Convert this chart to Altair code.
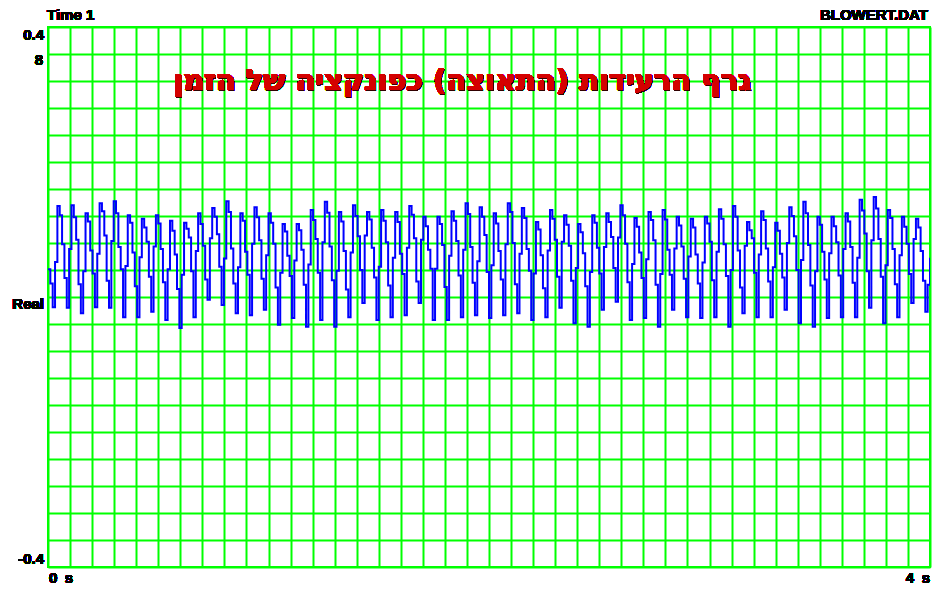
import altair as alt
import pandas as pd

# Blower vibration record (acceleration), 4 s, uniform sampling.
# Each cycle is sampled as: trough, rise, peak, shoulder, upper fall, lower fall.
lead_in = [0.041, 0.020]

trough = [-0.015, -0.016, -0.024, -0.015, -0.016, -0.030, -0.030, -0.022, -0.034, -0.046,
          -0.030, -0.004, -0.012, -0.024, -0.027, -0.019, -0.041, -0.031, -0.044, -0.034,
          -0.044, -0.030, -0.009, -0.034, -0.030, -0.027, -0.009, -0.034, -0.034, -0.030,
          -0.027, -0.031, -0.027, -0.024, -0.034, -0.030, -0.016, -0.039, -0.044, -0.019,
          -0.007, -0.034, -0.031, -0.044, -0.019, -0.030, -0.031, -0.030, -0.044, -0.024,
          -0.030, -0.030, -0.019, -0.039, -0.044, -0.031, -0.030, -0.030, -0.016, -0.039,
          -0.030, -0.009]

rise = [0.052, 0.071, 0.038, 0.064, 0.083, 0.046, 0.059, 0.075, 0.041, 0.033,
        0.068, 0.087, 0.057, 0.044, 0.079, 0.062, 0.036, 0.054, 0.048, 0.081,
        0.039, 0.066, 0.091, 0.045, 0.058, 0.073, 0.085, 0.042, 0.061, 0.070,
        0.053, 0.047, 0.078, 0.064, 0.035, 0.069, 0.082, 0.043, 0.037, 0.074,
        0.088, 0.049, 0.056, 0.034, 0.072, 0.060, 0.051, 0.067, 0.040, 0.076,
        0.063, 0.044, 0.080, 0.055, 0.038, 0.065, 0.071, 0.058, 0.084, 0.047,
        0.062, 0.086]

peak = [0.135, 0.136, 0.124, 0.139, 0.142, 0.121, 0.116, 0.121, 0.113, 0.110,
        0.124, 0.132, 0.142, 0.124, 0.133, 0.124, 0.108, 0.108, 0.129, 0.141,
        0.126, 0.136, 0.126, 0.129, 0.126, 0.135, 0.119, 0.119, 0.127, 0.139,
        0.133, 0.124, 0.139, 0.132, 0.111, 0.129, 0.121, 0.108, 0.121, 0.124,
        0.136, 0.117, 0.126, 0.129, 0.119, 0.116, 0.119, 0.130, 0.135, 0.111,
        0.127, 0.110, 0.133, 0.141, 0.119, 0.119, 0.124, 0.144, 0.148, 0.129,
        0.119, 0.116]

shoulder = [0.121, 0.118, 0.112, 0.127, 0.124, 0.110, 0.103, 0.109, 0.098, 0.101,
            0.108, 0.119, 0.126, 0.113, 0.118, 0.110, 0.097, 0.099, 0.114, 0.125,
            0.112, 0.120, 0.115, 0.113, 0.111, 0.122, 0.105, 0.108, 0.113, 0.123,
            0.119, 0.109, 0.126, 0.117, 0.100, 0.116, 0.107, 0.096, 0.110, 0.111,
            0.121, 0.104, 0.114, 0.115, 0.106, 0.103, 0.109, 0.116, 0.119, 0.099,
            0.114, 0.098, 0.120, 0.124, 0.107, 0.105, 0.112, 0.128, 0.131, 0.117,
            0.104, 0.103]

fall_hi = [0.078, 0.085, 0.069, 0.091, 0.074, 0.066, 0.082, 0.071, 0.063, 0.088,
           0.076, 0.093, 0.072, 0.067, 0.084, 0.079, 0.061, 0.070, 0.086, 0.075,
           0.068, 0.090, 0.073, 0.081, 0.064, 0.087, 0.070, 0.077, 0.083, 0.074,
           0.092, 0.068, 0.080, 0.071, 0.062, 0.085, 0.076, 0.065, 0.073, 0.089,
           0.079, 0.066, 0.084, 0.070, 0.075, 0.063, 0.082, 0.078, 0.069, 0.087,
           0.072, 0.064, 0.090, 0.077, 0.067, 0.081, 0.074, 0.094, 0.086, 0.071,
           0.079, 0.068]

fall_lo = [0.028, 0.019, 0.035, 0.024, 0.041, 0.016, 0.030, 0.022, 0.012, 0.038,
           0.026, 0.045, 0.020, 0.033, 0.027, 0.014, 0.031, 0.018, 0.036, 0.025,
           0.011, 0.040, 0.029, 0.017, 0.034, 0.023, 0.042, 0.015, 0.032, 0.021,
           0.037, 0.026, 0.019, 0.039, 0.013, 0.030, 0.024, 0.016, 0.035, 0.043,
           0.022, 0.028, 0.018, 0.033, 0.027, 0.020, 0.025, 0.031, 0.014, 0.036,
           0.023, 0.029, 0.040, 0.017, 0.026, 0.032, 0.021, 0.038, 0.030, 0.019,
           0.034, 0.024]

tail = [-0.022, 0.018, 0.058]

DURATION = 4.0  # seconds

samples = list(lead_in)
for k in range(len(peak)):
    samples += [trough[k], rise[k], peak[k], shoulder[k], fall_hi[k], fall_lo[k]]
samples += tail

dt = DURATION / (len(samples) - 1)
signal = pd.DataFrame({"t": [i * dt for i in range(len(samples))], "a": samples})

# grid divisions: 0.1 s horizontally, 0.04 vertically
x_grid = [round(i * 0.1, 2) for i in range(41)]
y_grid = [round(-0.4 + i * 0.04, 2) for i in range(21)]

GREEN = "#00ff00"
W, H = 882, 540


def grid_axis(vals):
    return alt.Axis(values=vals, grid=True, gridColor=GREEN, gridWidth=2,
                    gridOpacity=1, labels=False, ticks=False, domain=False,
                    title=None)


trace = alt.Chart(signal).mark_line(
    interpolate="step-after", color="#0000ff", strokeWidth=2, clip=True
).encode(
    x=alt.X("t:Q", scale=alt.Scale(domain=[0, DURATION], nice=False, zero=False),
            axis=grid_axis(x_grid)),
    y=alt.Y("a:Q", scale=alt.Scale(domain=[-0.4, 0.4], nice=False, zero=False),
            axis=grid_axis(y_grid)),
)

LABEL_FONT = "Liberation Sans"


def label(text, x, y, align):
    return alt.Chart(signal).mark_text(
        text=text, align=align, baseline="middle", font=LABEL_FONT,
        fontSize=15, fontWeight="bold", color="#000000"
    ).encode(x=alt.value(x), y=alt.value(y))


labels = [
    label("Time 1", -1, -12, "left"),
    label("BLOWERT.DAT", 880, -12, "right"),
    label("0.4", -4, 8, "right"),
    label("8", -5, 33, "right"),
    label("Real", -4, 277, "right"),
    label("-0.4", -4, 532, "right"),
    label("0\u2002s", 1, 551, "left"),
    label("4\u2002s", 882, 551, "right"),
]

TITLE = "גרף הרעידות (התאוצה) כפונקציה של הזמן"
TITLE_SIZE = 29

title_shadow = alt.Chart(signal).mark_text(
    text=TITLE, align="center", baseline="middle", font="DejaVu Sans",
    fontSize=TITLE_SIZE, fontWeight="bold", color="#300000"
).encode(x=alt.value(415), y=alt.value(55))

title_main = alt.Chart(signal).mark_text(
    text=TITLE, align="center", baseline="middle", font="DejaVu Sans",
    fontSize=TITLE_SIZE, fontWeight="bold", color="#d40000"
).encode(x=alt.value(414), y=alt.value(54))

chart = alt.layer(trace, title_shadow, title_main, *labels).properties(
    width=W, height=H,
    autosize=alt.AutoSizeParams(type="none"),
    padding={"left": 48, "top": 27, "right": 2, "bottom": 23},
    background="#ffffff",
).configure_view(stroke=GREEN, strokeWidth=2)

chart.save("out.html", embed_options={"renderer": "svg", "actions": False})
